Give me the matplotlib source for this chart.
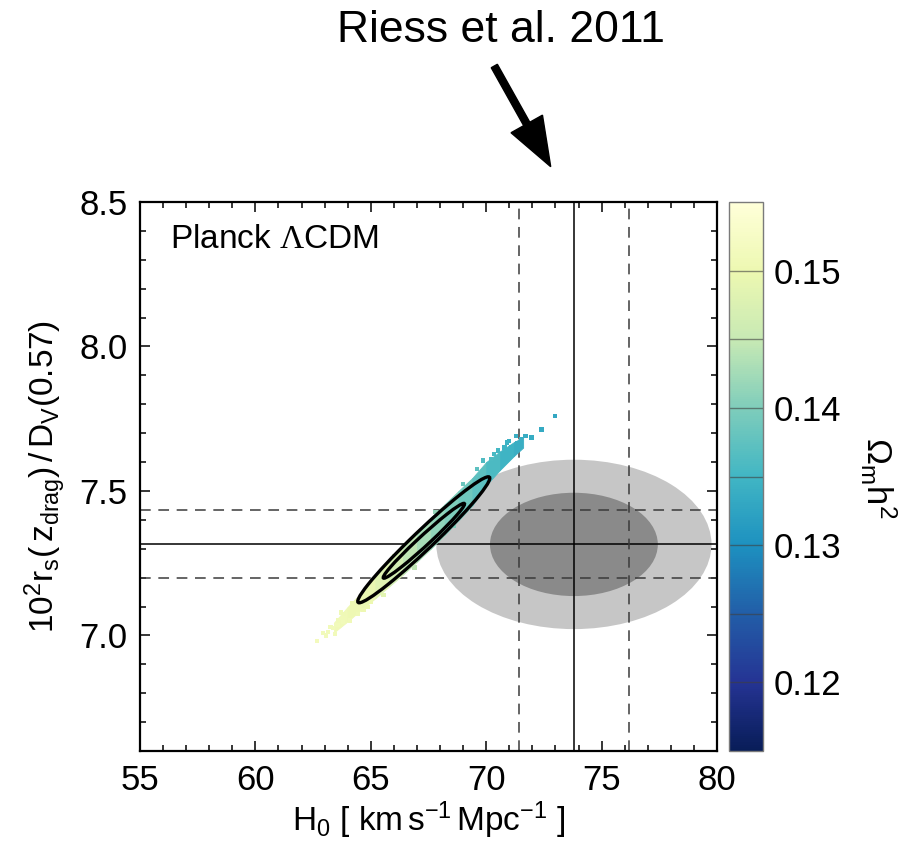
import numpy as np
import matplotlib
matplotlib.use("Agg")
import matplotlib.pyplot as plt
import matplotlib.colors as mcolors
from matplotlib.patches import Ellipse, Circle, FancyArrow
from matplotlib.transforms import Affine2D
from matplotlib.ticker import MultipleLocator, FormatStrFormatter

plt.rcParams["font.family"] = ["Liberation Sans", "DejaVu Sans"]
plt.rcParams["mathtext.fontset"] = "custom"
plt.rcParams["mathtext.rm"] = "Liberation Sans"
plt.rcParams["mathtext.it"] = "Liberation Sans:italic"
plt.rcParams["mathtext.bf"] = "Liberation Sans:bold"
plt.rcParams["mathtext.cal"] = "Liberation Serif"

# --- local H0 measurement and BOSS BAO constraint ---
h0_riess = 73.8
h0_riess_err = 2.4
ratio_bao = 7.315
ratio_bao_err = 0.118
# 2-parameter 68% and 95% confidence scalings
sigma_levels = [2.484, 1.515]
sigma_greys = ["#c6c6c6", "#8a8a8a"]

# --- Planck LCDM chain: dense core of the samples (edges per H0 node) ---
core_h0 = [63.4, 64.0, 64.6, 65.2, 65.8, 66.4, 67.0, 67.6, 68.2, 68.8, 69.4, 70.0, 70.6, 71.2, 71.6]
core_lo = [7.010, 7.049, 7.090, 7.129, 7.170, 7.211, 7.255, 7.300, 7.348, 7.398, 7.450, 7.520, 7.573, 7.621, 7.650]
core_hi = [7.044, 7.099, 7.150, 7.205, 7.258, 7.311, 7.361, 7.408, 7.454, 7.500, 7.545, 7.600, 7.637, 7.669, 7.686]
core_omh2 = [0.1510, 0.1505, 0.1500, 0.1490, 0.1475, 0.1455, 0.1435, 0.1420, 0.1405, 0.1392, 0.1380, 0.1365, 0.1352, 0.1342, 0.1337]

# --- individual samples outside the dense core ---
pts_h0 = [62.68, 62.94, 63.15, 63.25, 63.37, 63.55, 63.60, 63.80, 63.85, 64.10, 64.30, 64.45, 64.68,
          65.00, 65.55, 66.00, 66.90, 67.80, 68.60, 69.00, 69.60, 70.20, 70.50, 70.80, 71.00,
          71.10, 71.30, 71.35, 71.50, 71.70, 71.97, 72.40, 72.98,
          63.05, 63.45, 63.70, 64.20, 64.85, 69.85, 70.35, 70.90]
pts_ratio = [6.980, 7.008, 7.012, 7.030, 7.025, 7.036, 7.052, 7.046, 7.075, 7.052, 7.108, 7.075, 7.088,
             7.115, 7.140, 7.275, 7.235, 7.428, 7.378, 7.525, 7.575, 7.610, 7.640, 7.650, 7.672,
             7.650, 7.690, 7.665, 7.679, 7.690, 7.685, 7.713, 7.760,
             7.000, 7.005, 7.080, 7.110, 7.098, 7.605, 7.628, 7.668]
pts_omh2 = [0.1515, 0.1512, 0.1512, 0.1510, 0.1512, 0.1510, 0.1508, 0.1510, 0.1505, 0.1508, 0.1502, 0.1505, 0.1502,
            0.1500, 0.1485, 0.1465, 0.1445, 0.1415, 0.1400, 0.1385, 0.1372, 0.1360, 0.1352, 0.1348, 0.1342,
            0.1346, 0.1340, 0.1340, 0.1340, 0.1338, 0.1336, 0.1333, 0.1330,
            0.1512, 0.1511, 0.1506, 0.1503, 0.1500, 0.1362, 0.1355, 0.1345]

# --- 68% / 95% contours of the chain: centre, half major axis, horizontal half width ---
contour_centre = [(67.30, 7.3275), (67.295, 7.331)]
contour_axis = [(1.73, 0.1295), (2.795, 0.218)]
contour_halfwidth = [0.33, 0.61]

# colour scale
omh2_min, omh2_max = 0.115, 0.155
cbar_ticks = [0.12, 0.13, 0.14, 0.15]
cbar_bounds = [0.12, 0.125, 0.13, 0.135, 0.14, 0.145, 0.15]

cmap = plt.get_cmap("YlGnBu_r")
norm = mcolors.Normalize(vmin=omh2_min, vmax=omh2_max)

W, H = 908, 846
fig = plt.figure(figsize=(W / 100, H / 100), dpi=100)
ax = fig.add_axes([140 / W, 95 / H, 577 / W, 549 / H])
cax = fig.add_axes([729 / W, 95 / H, 34 / W, 549 / H])

ax.set_xlim(55, 80)
ax.set_ylim(6.6, 8.5)

# Riess et al. error ellipses (combined with the BAO constraint)
for k, col in zip(sigma_levels, sigma_greys):
    ax.add_patch(Ellipse((h0_riess, ratio_bao), 2 * k * h0_riess_err, 2 * k * ratio_bao_err,
                         facecolor=col, edgecolor="none", zorder=1))

# reference lines
ax.axvline(h0_riess, color="black", lw=1.1, zorder=2)
ax.axhline(ratio_bao, color="black", lw=1.1, zorder=2)
for s in (-1, 1):
    ax.axvline(h0_riess + s * h0_riess_err, color="#3a3a3a", lw=1.1, ls=(0, (7, 5)), zorder=2)
    ax.axhline(ratio_bao + s * ratio_bao_err, color="#3a3a3a", lw=1.1, ls=(0, (7, 5)), zorder=2)

# dense core of the chain, coloured by Omega_m h^2
for i in range(len(core_h0) - 1):
    c = cmap(norm(0.5 * (core_omh2[i] + core_omh2[i + 1])))
    ax.fill_between(core_h0[i:i + 2], core_lo[i:i + 2], core_hi[i:i + 2],
                    facecolor=c, edgecolor=c, lw=0.6, zorder=3)

ax.scatter(pts_h0, pts_ratio, c=pts_omh2, cmap=cmap, norm=norm, marker="s", s=10,
           linewidths=0, zorder=3)

# confidence contours
for (cx, cy), (axx, axy), hw in zip(contour_centre, contour_axis, contour_halfwidth):
    tr = Affine2D(np.array([[axx, hw, cx], [axy, 0.0, cy], [0.0, 0.0, 1.0]])) + ax.transData
    ax.add_patch(Circle((0, 0), 1.0, transform=tr, fill=False, edgecolor="black", lw=2.4, zorder=4))

ax.text(0.052, 0.931, r"Planck $\mathcal{\Lambda}$CDM", transform=ax.transAxes,
        fontsize=24, ha="left", va="center")

ax.xaxis.set_major_locator(MultipleLocator(5))
ax.xaxis.set_minor_locator(MultipleLocator(1))
ax.yaxis.set_major_locator(MultipleLocator(0.5))
ax.yaxis.set_minor_locator(MultipleLocator(0.1))
ax.yaxis.set_major_formatter(FormatStrFormatter("%.1f"))
ax.tick_params(which="both", direction="in", top=True, right=True, width=1.1, labelsize=25)
ax.tick_params(which="major", length=7, pad=9)
ax.tick_params(which="minor", length=4)
for sp in ax.spines.values():
    sp.set_linewidth(1.6)

ax.set_xlabel(r"$\mathrm{H_0\ [\ km\,s^{-1}\,Mpc^{-1}\ ]}$", fontsize=24, labelpad=2)
ax.set_ylabel(r"$\mathrm{10^2r_s(\,z_{drag})\,/\,D_V(0.57)}$", fontsize=24, labelpad=8)

# colour bar
sm = matplotlib.cm.ScalarMappable(norm=norm, cmap=cmap)
cb = fig.colorbar(sm, cax=cax, ticks=cbar_ticks)
cb.outline.set_edgecolor("#7a7a7a")
cb.outline.set_linewidth(1.0)
for b in cbar_bounds:
    cax.axhline(b, color="#404040", lw=1.0, alpha=0.6)
cax.tick_params(length=0, labelsize=25, pad=8)
cax.yaxis.set_major_formatter(FormatStrFormatter("%.2f"))
fig.text(878 / W, 1 - 478 / H, r"$\mathrm{\Omega_m h^2}$", rotation=270, fontsize=25,
         ha="center", va="center")

# annotation
fig.text(501 / W, 1 - 31 / H, "Riess et al. 2011", fontsize=32, ha="center", va="center")
fig.add_artist(FancyArrow(494.3 / 100, (H - 66) / 100, 0.564, -1.007, width=0.07,
                          head_width=0.36, head_length=0.49, length_includes_head=True,
                          color="black", transform=fig.dpi_scale_trans))

fig.savefig("out.png", dpi=100)
